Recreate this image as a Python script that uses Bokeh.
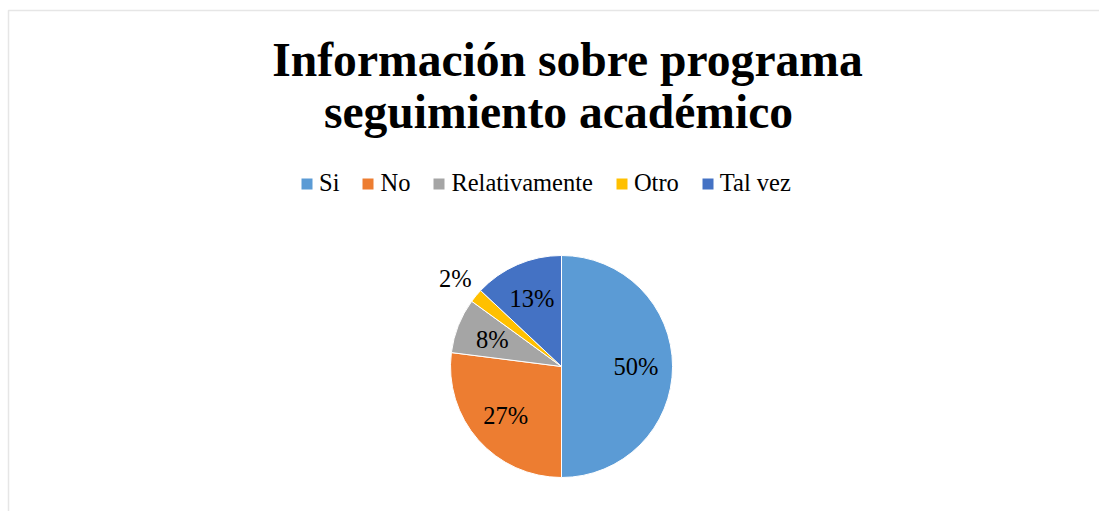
import numpy as np
from bokeh.plotting import figure
from bokeh.models import ColumnDataSource, Range1d, Legend, LegendItem, BoxAnnotation
from bokeh.core.properties import value
from bokeh.embed import file_html
from bokeh.resources import INLINE

# ---- data ----
categories = ["Si", "No", "Relativamente", "Otro", "Tal vez"]
percentages = [50, 27, 8, 2, 13]
colors = ["#5B9BD5", "#ED7D31", "#A5A5A5", "#FFC000", "#4472C4"]
title_lines = ["Información sobre programa", "seguimiento académico"]

FONT = "Liberation Serif"
W, H = 1099, 511

p = figure(width=W, height=H, output_backend="svg", toolbar_location=None,
           x_range=Range1d(-8, W - 8), y_range=Range1d(8, H + 8),
           min_border=0, min_border_left=0, min_border_right=0,
           min_border_top=0, min_border_bottom=0)
p.axis.visible = False
p.grid.visible = False
p.outline_line_color = None
p.background_fill_color = "white"
p.border_fill_color = "white"

# chart-area border (only top/left edges visible in the window)
p.add_layout(BoxAnnotation(left=0, right=W + 200, bottom=-200, top=509,
                           fill_color=None, line_color="#ADADAD", line_width=1.5))

# ---- pie ----
cx, cy, R = 553, 153, 111
vals = np.array(percentages, dtype=float)
frac = vals / vals.sum()
cum_after = np.cumsum(frac)
cum_before = cum_after - frac
# clockwise from 12 o'clock
start = np.pi / 2 - 2 * np.pi * cum_after
end = np.pi / 2 - 2 * np.pi * cum_before

src = ColumnDataSource(dict(cat=categories, start=start, end=end, color=colors))
wr = p.wedge(x=cx, y=cy, radius=R, radius_units="screen",
             start_angle="start", end_angle="end", fill_color="color",
             line_color="white", line_width=1, source=src)

# labels
mid = 2 * np.pi * (cum_before + frac / 2)  # clockwise from top
fac = np.where(frac < 0.05, 1.24, 0.67)
lx = cx + fac * R * np.sin(mid)
ly = cy + fac * R * np.cos(mid)
labels = [f"{int(round(v))}%" for v in frac * 100]
p.text(x=lx, y=ly, text=labels, text_font=value(FONT), text_font_size="24.5px",
       text_align="center", text_baseline="middle", text_color="#000000")

# ---- title ----
p.text(x=[559, 550], y=[460, 408], text=title_lines, text_font=value(FONT),
       text_font_size="47.6px", text_font_style="bold", text_align="center",
       text_baseline="middle", text_color="#000000")

# ---- legend ----
items = [LegendItem(label=c, renderers=[wr], index=i) for i, c in enumerate(categories)]
legend = Legend(items=items, orientation="horizontal", location=(299, 314),
                glyph_width=15, glyph_height=15, label_standoff=5, spacing=21,
                padding=0, margin=0, border_line_color=None,
                background_fill_alpha=0,
                label_text_font=FONT, label_text_font_size="24.5px",
                label_text_color="#000000")
p.add_layout(legend, "center")

open("out.html", "w").write(file_html(p, INLINE))
